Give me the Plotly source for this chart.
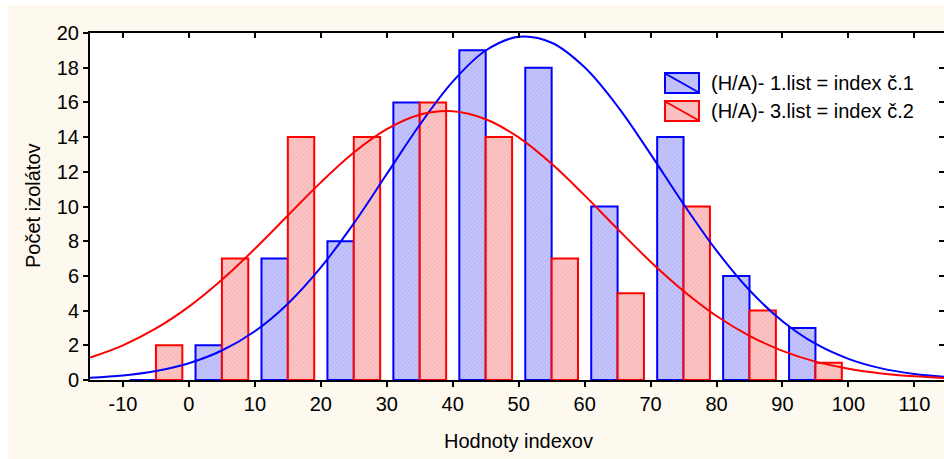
import plotly.graph_objects as go

# ---- data ----
bin_centers = [-5, 5, 15, 25, 35, 45, 55, 65, 75, 85, 95]
series1_name = "(H/A)- 1.list = index č.1"
series2_name = "(H/A)- 3.list = index č.2"
series1_counts = [0, 2, 7, 8, 16, 19, 18, 10, 14, 6, 3]
series2_counts = [2, 7, 14, 14, 16, 14, 7, 5, 10, 4, 1]

curve_x = [-15, -10, -5, 0, 5, 10, 15, 20, 25, 30, 35, 40, 45, 50, 55, 60, 65,
           70, 75, 80, 85, 90, 95, 100, 105, 110, 115]
curve1_y = [0.13, 0.26, 0.52, 0.97, 1.70, 2.81, 4.40, 6.49, 9.03, 11.87, 14.71,
            17.20, 18.99, 19.78, 19.44, 18.02, 15.77, 13.02, 10.14, 7.46, 5.17,
            3.39, 2.09, 1.22, 0.67, 0.35, 0.17]
curve2_y = [1.29, 2.00, 2.97, 4.23, 5.78, 7.56, 9.48, 11.39, 13.11, 14.46, 15.29,
            15.49, 15.03, 13.98, 12.46, 10.64, 8.70, 6.82, 5.13, 3.69, 2.55,
            1.68, 1.06, 0.65, 0.38, 0.21, 0.11]

x_ticks = [-10, 0, 10, 20, 30, 40, 50, 60, 70, 80, 90, 100, 110]
x_tick_labels = ["-10", "0", "10", "20", "30", "40", "50", "60", "70", "80",
                 "90", "100", "110"]
y_ticks = [0, 2, 4, 6, 8, 10, 12, 14, 16, 18, 20]
x_title = "Hodnoty indexov"
y_title = "Počet izolátov"

# ---- styling ----
W, H = 944, 459
ML, MR, MT, MB = 90, 0, 33, 459 - 380
PW, PH = W - ML - MR, H - MT - MB
FONT = "Liberation Sans, Arial, sans-serif"
FS = 20
BLUE, RED = "#0000ff", "#ff0000"
BLUE_FILL, RED_FILL = "#c0c0fa", "#fac0c0"
CREAM = "#fdf9ef"


def px_x(p):  # page pixel -> paper fraction
    return (p - ML) / PW


def px_y(p):
    return 1 - (p - MT) / PH


fig = go.Figure()

fig.add_trace(go.Bar(
    x=bin_centers, y=series1_counts, width=4, offset=-4,
    name=series1_name, showlegend=False,
    marker=dict(color=BLUE_FILL, line=dict(color=BLUE, width=2),
                pattern=dict(shape="/", fgcolor="#9a9af2", bgcolor="#c6c6fb",
                             size=3, solidity=0.3)),
))
fig.add_trace(go.Bar(
    x=bin_centers, y=series2_counts, width=4, offset=0,
    name=series2_name, showlegend=False,
    marker=dict(color=RED_FILL, line=dict(color=RED, width=2),
                pattern=dict(shape="/", fgcolor="#f29a9a", bgcolor="#fbc6c6",
                             size=3, solidity=0.3)),
))
fig.add_trace(go.Scatter(x=curve_x, y=curve1_y, mode="lines",
                         line=dict(color=BLUE, width=2, shape="spline"),
                         showlegend=False, hoverinfo="skip"))
fig.add_trace(go.Scatter(x=curve_x, y=curve2_y, mode="lines",
                         line=dict(color=RED, width=2, shape="spline"),
                         showlegend=False, hoverinfo="skip"))

xr = [-15, -15 + PW / 6.595]
yr = [0, 20]

axis_common = dict(showgrid=False, zeroline=False, tickwidth=2,
                   tickcolor="black", showline=True, linecolor="black",
                   linewidth=2, ticklen=5)

# custom legend (boxes with a diagonal stroke, like the original)
legend_items = [(series1_name, BLUE, BLUE_FILL, 73), (series2_name, RED, RED_FILL, 101)]
legend_shapes, legend_annots = [], []
for name, col, fill, top in legend_items:
    legend_shapes.append(dict(type="rect", xref="paper", yref="paper",
                              x0=px_x(665), x1=px_x(699), y0=px_y(top + 20), y1=px_y(top),
                              fillcolor=fill, line=dict(color=col, width=2)))
    legend_shapes.append(dict(type="line", xref="paper", yref="paper",
                              x0=px_x(666), x1=px_x(698), y0=px_y(top + 1), y1=px_y(top + 19),
                              line=dict(color=col, width=2)))
    legend_annots.append(dict(text=name, xref="paper", yref="paper",
                              x=px_x(709), y=px_y(top + 10), showarrow=False,
                              xanchor="left", yanchor="middle",
                              font=dict(size=FS, family=FONT)))

fig.update_layout(
    width=W, height=H,
    margin=dict(l=ML, r=MR, t=MT, b=MB),
    paper_bgcolor="white", plot_bgcolor="white",
    barmode="overlay",
    font=dict(family=FONT, size=FS, color="#000000"),
    showlegend=False,
    xaxis=dict(range=xr, tickvals=x_ticks, ticktext=x_tick_labels,
               ticks="outside", tickfont=dict(size=FS, family=FONT),
               **axis_common),
    yaxis=dict(range=yr, tickvals=y_ticks, ticks="outside",
               tickfont=dict(size=FS, family=FONT), **axis_common),
    xaxis2=dict(overlaying="x", side="top", range=xr, tickvals=x_ticks,
                ticks="inside", showticklabels=False, **axis_common),
    yaxis2=dict(overlaying="y", side="right", range=yr, tickvals=y_ticks,
                ticks="inside", showticklabels=False, **axis_common),
    shapes=[
        dict(type="rect", xref="paper", yref="paper", layer="below",
             x0=px_x(8), x1=px_x(W + 5), y0=px_y(5), y1=px_y(H + 5),
             fillcolor=CREAM, line=dict(width=0)),
        dict(type="rect", xref="paper", yref="paper", layer="below",
             x0=0, x1=1, y0=0, y1=1, fillcolor="white", line=dict(width=0)),
    ] + legend_shapes,
    annotations=[
        dict(text=x_title, xref="paper", yref="paper", x=px_x(518), y=px_y(441),
             showarrow=False, font=dict(size=FS, family=FONT),
             xanchor="center", yanchor="middle"),
        dict(text=y_title, xref="paper", yref="paper", x=px_x(33), y=px_y(205),
             showarrow=False, textangle=-90, font=dict(size=FS, family=FONT),
             xanchor="center", yanchor="middle"),
    ] + legend_annots,
)
# invisible trace to activate the mirror axes
fig.add_trace(go.Scatter(x=[None], y=[None], xaxis="x2", yaxis="y2",
                         showlegend=False, hoverinfo="skip"))

fig.write_html(
    "out.html",
    config={"displayModeBar": False},
    post_script="document.body.style.margin='0';"
                "document.body.style.overflow='hidden';"
                "document.documentElement.style.overflow='hidden';",
)
